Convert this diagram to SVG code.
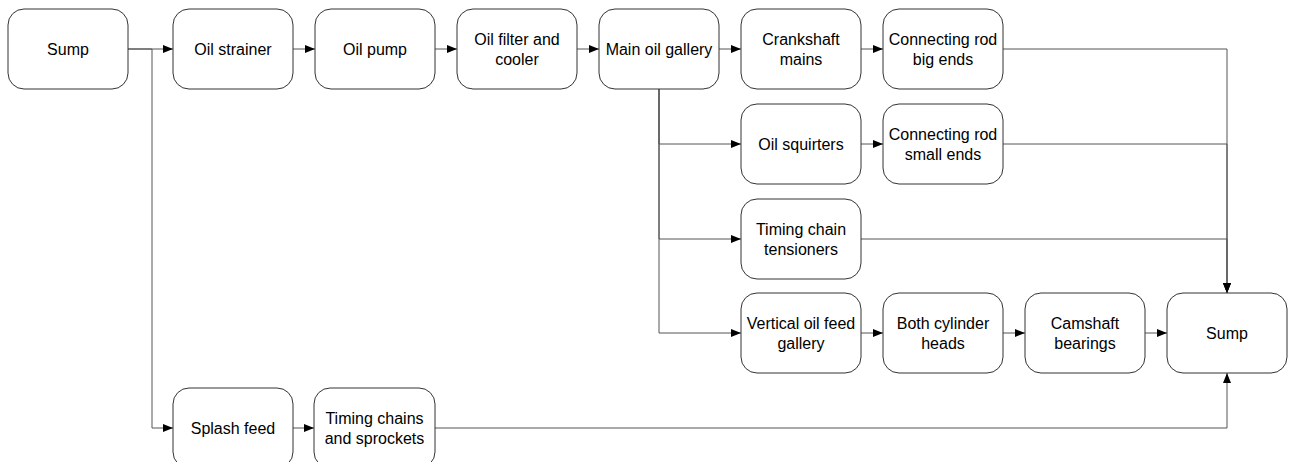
<svg xmlns="http://www.w3.org/2000/svg" width="1289" height="462" viewBox="0 0 1289 462">
  <defs>
    <style>
      .node rect { fill: #ffffff; stroke: #333333; stroke-width: 1; }
      .node text { font-family: "Liberation Sans", Arial, sans-serif; font-size: 16px; fill: #000000; text-anchor: middle; }
      .conn path { fill: none; stroke: #555555; stroke-width: 1; }
      .conn .arrow path { stroke: none; }
    </style>
    <marker id="arrow" markerUnits="userSpaceOnUse" markerWidth="10" markerHeight="8" refX="10" refY="4" orient="auto">
      <path d="M0,0 L10,4 L0,8 Z" fill="#000000" stroke="none"/>
    </marker>
  </defs>

  <rect width="1289" height="462" fill="#ffffff"/>

  <!-- connectors -->
  <g id="connectors" class="conn">
    <path d="M128,49 H173" marker-end="url(#arrow)"/>
    <path d="M128,49 H152 V428 H173" marker-end="url(#arrow)"/>
    <path d="M293,49 H315" marker-end="url(#arrow)"/>
    <path d="M435,49 H457" marker-end="url(#arrow)"/>
    <path d="M577,49 H599" marker-end="url(#arrow)"/>
    <path d="M719,49 H741" marker-end="url(#arrow)"/>
    <path d="M861,49 H883" marker-end="url(#arrow)"/>
    <path d="M659,89 V144 H741" marker-end="url(#arrow)"/>
    <path d="M659,89 V239 H741" marker-end="url(#arrow)"/>
    <path d="M659,89 V333 H741" marker-end="url(#arrow)"/>
    <path d="M861,144 H883" marker-end="url(#arrow)"/>
    <path d="M861,333 H883" marker-end="url(#arrow)"/>
    <path d="M1003,333 H1025" marker-end="url(#arrow)"/>
    <path d="M1145,333 H1167" marker-end="url(#arrow)"/>
    <path d="M1003,49 H1227 V293" marker-end="url(#arrow)"/>
    <path d="M1003,144 H1227 V293" marker-end="url(#arrow)"/>
    <path d="M861,239 H1227 V293" marker-end="url(#arrow)"/>
    <path d="M293,428 H314" marker-end="url(#arrow)"/>
    <path d="M435,428 H1227 V373" marker-end="url(#arrow)"/>
  </g>

  <!-- nodes -->
  <g id="sump-top" class="node"><rect x="8" y="9" width="120" height="80" rx="16"/><text x="68" y="55">Sump</text></g>
  <g id="oil-strainer" class="node"><rect x="173" y="9" width="120" height="80" rx="16"/><text x="233" y="55">Oil strainer</text></g>
  <g id="oil-pump" class="node"><rect x="315" y="9" width="120" height="80" rx="16"/><text x="375" y="55">Oil pump</text></g>
  <g id="oil-filter" class="node"><rect x="457" y="9" width="120" height="80" rx="16"/><text x="517" y="45">Oil filter and</text><text x="517" y="65">cooler</text></g>
  <g id="main-gallery" class="node"><rect x="599" y="9" width="120" height="80" rx="16"/><text x="659" y="55">Main oil gallery</text></g>
  <g id="crank-mains" class="node"><rect x="741" y="9" width="120" height="80" rx="16"/><text x="801" y="45">Crankshaft</text><text x="801" y="65">mains</text></g>
  <g id="big-ends" class="node"><rect x="883" y="9" width="120" height="80" rx="16"/><text x="943" y="45">Connecting rod</text><text x="943" y="65">big ends</text></g>

  <g id="oil-squirters" class="node"><rect x="741" y="104" width="120" height="80" rx="16"/><text x="801" y="150">Oil squirters</text></g>
  <g id="small-ends" class="node"><rect x="883" y="104" width="120" height="80" rx="16"/><text x="943" y="140">Connecting rod</text><text x="943" y="160">small ends</text></g>

  <g id="tensioners" class="node"><rect x="741" y="199" width="120" height="80" rx="16"/><text x="801" y="235">Timing chain</text><text x="801" y="255">tensioners</text></g>

  <g id="vertical-gallery" class="node"><rect x="741" y="293" width="120" height="80" rx="16"/><text x="801" y="329">Vertical oil feed</text><text x="801" y="349">gallery</text></g>
  <g id="cylinder-heads" class="node"><rect x="883" y="293" width="120" height="80" rx="16"/><text x="943" y="329">Both cylinder</text><text x="943" y="349">heads</text></g>
  <g id="camshaft" class="node"><rect x="1025" y="293" width="120" height="80" rx="16"/><text x="1085" y="329">Camshaft</text><text x="1085" y="349">bearings</text></g>
  <g id="sump-return" class="node"><rect x="1167" y="293" width="120" height="80" rx="16"/><text x="1227" y="339">Sump</text></g>

  <g id="splash-feed" class="node"><rect x="173" y="388" width="120" height="80" rx="16"/><text x="233" y="434">Splash feed</text></g>
  <g id="timing-chains" class="node"><rect x="314" y="388" width="121" height="80" rx="16"/><text x="374.5" y="424">Timing chains</text><text x="374.5" y="444">and sprockets</text></g>
</svg>
